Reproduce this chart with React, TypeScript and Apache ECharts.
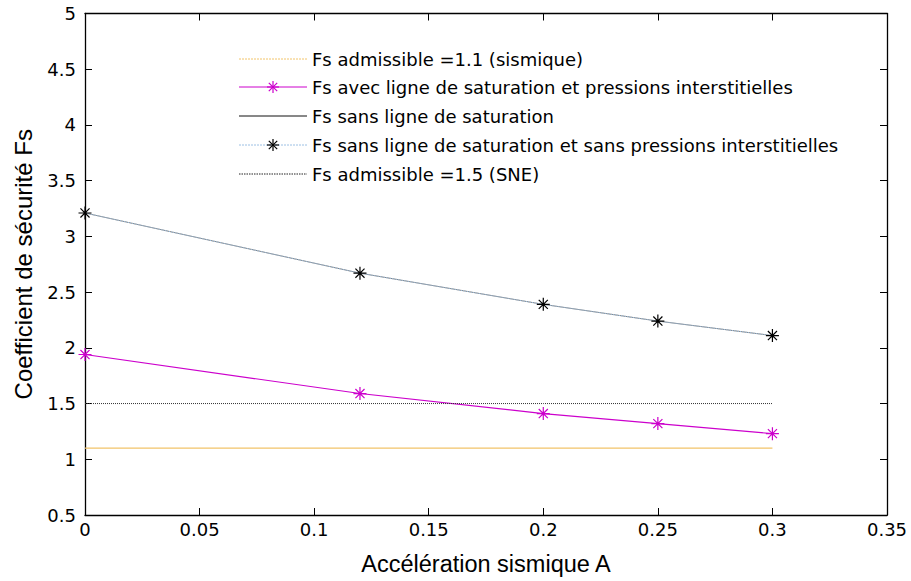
import React, { useEffect, useRef } from "react";
import * as echarts from "echarts";

const accel = [0, 0.12, 0.2, 0.25, 0.3];
const fsAvec = [1.94, 1.59, 1.41, 1.32, 1.23];
const fsSans = [3.21, 2.67, 2.39, 2.24, 2.11];
const fsSansSansPress = [3.21, 2.67, 2.39, 2.24, 2.11];
const fsAdm11 = [1.1, 1.1, 1.1, 1.1, 1.1];
const fsAdm15 = [1.5, 1.5, 1.5, 1.5, 1.5];
const names = [
  "Fs admissible =1.1 (sismique)",
  "Fs avec ligne de saturation et pressions interstitielles",
  "Fs sans ligne de saturation",
  "Fs sans ligne de saturation et sans pressions interstitielles",
  "Fs admissible =1.5 (SNE)",
];

const ASTER = "path://M0 5 L10 5 M5 0 L5 10 M1.5 1.5 L8.5 8.5 M8.5 1.5 L1.5 8.5";
const FONT = "'Liberation Sans', Arial, sans-serif";
const TICKFONT = "'DejaVu Sans', sans-serif";

const C_ORANGE = "#f2c46a";
const C_MAG = "#cc00cc";
const C_BLUE = "#9cc0e4";

const pts = (ys: number[]) => accel.map((x, i) => [x, ys[i]]);

function asterisk(cx: number, cy: number, r: number, color: string) {
  const d = r * 0.7;
  const segs = [
    [cx - r, cy, cx + r, cy],
    [cx, cy - r, cx, cy + r],
    [cx - d, cy - d, cx + d, cy + d],
    [cx + d, cy - d, cx - d, cy + d],
  ];
  return segs.map((s) => ({
    type: "line",
    shape: { x1: s[0], y1: s[1], x2: s[2], y2: s[3] },
    style: { stroke: color, lineWidth: 1.2 },
    silent: true,
  }));
}

export default function App() {
  const ref = useRef<HTMLDivElement>(null);
  useEffect(() => {
    const chart = echarts.init(ref.current!, null, { renderer: "svg" });
    const tick = { show: true, inside: true, length: 7, lineStyle: { color: "#000", width: 1 } };
    const line = { show: true, onZero: false, lineStyle: { color: "#000", width: 1.3 } };

    const lx1 = 239;
    const lx2 = 307;
    const tx = 312;
    const rows = [59, 87, 116, 145, 174];
    const legendStyles = [
      { stroke: C_ORANGE, lineDash: [2, 1], marker: null },
      { stroke: C_MAG, lineDash: null, marker: C_MAG },
      { stroke: "#111", lineDash: null, marker: null },
      { stroke: C_BLUE, lineDash: [2, 1], marker: "#000" },
      { stroke: "#222", lineDash: [1.5, 1], marker: null },
    ];
    const legendEls: any[] = [];
    rows.forEach((y, i) => {
      const st = legendStyles[i];
      legendEls.push({
        type: "line",
        shape: { x1: lx1, y1: y, x2: lx2, y2: y },
        style: { stroke: st.stroke, lineWidth: 1, lineDash: st.lineDash || undefined },
        silent: true,
      });
      if (st.marker) legendEls.push(...asterisk((lx1 + lx2) / 2, y, 6, st.marker));
      legendEls.push({
        type: "text",
        x: tx,
        y: y,
        style: {
          text: names[i],
          fill: "#000",
          font: `18px ${TICKFONT}`,
          verticalAlign: "middle",
          align: "left",
        },
        silent: true,
      });
    });

    chart.setOption({
      animation: false,
      backgroundColor: "#fff",
      textStyle: { fontFamily: FONT },
      grid: { left: 85, right: 24, top: 13.5, bottom: 65 },
      graphic: legendEls,
      xAxis: [
        {
          type: "value",
          min: 0,
          max: 0.35,
          interval: 0.05,
          position: "bottom",
          axisLine: line,
          axisTick: tick,
          splitLine: { show: false },
          name: "Accélération sismique A",
          nameLocation: "middle",
          nameGap: 37,
          nameTextStyle: { fontFamily: FONT, fontSize: 23.5, color: "#000" },
          axisLabel: { fontFamily: TICKFONT, fontSize: 18, color: "#000", margin: 5 },
        },
        {
          type: "value",
          min: 0,
          max: 0.35,
          interval: 0.05,
          position: "top",
          axisLine: line,
          axisTick: tick,
          splitLine: { show: false },
          axisLabel: { show: false },
        },
      ],
      yAxis: [
        {
          type: "value",
          min: 0.5,
          max: 5,
          interval: 0.5,
          position: "left",
          axisLine: line,
          axisTick: tick,
          splitLine: { show: false },
          name: "Coefficient de sécurité Fs",
          nameLocation: "middle",
          nameGap: 50,
          nameTextStyle: { fontFamily: FONT, fontSize: 24, color: "#000" },
          axisLabel: { fontFamily: TICKFONT, fontSize: 18, color: "#000", margin: 9 },
        },
        {
          type: "value",
          min: 0.5,
          max: 5,
          interval: 0.5,
          position: "right",
          axisLine: line,
          axisTick: tick,
          splitLine: { show: false },
          axisLabel: { show: false },
        },
      ],
      series: [
        {
          name: names[0],
          type: "line",
          data: pts(fsAdm11),
          symbol: "none",
          lineStyle: { color: C_ORANGE, width: 1.2 },
        },
        {
          name: names[1],
          type: "line",
          data: pts(fsAvec),
          symbol: ASTER,
          symbolSize: 13,
          lineStyle: { color: C_MAG, width: 1.2 },
          itemStyle: { color: "none", borderColor: C_MAG, borderWidth: 1.2 },
        },
        {
          name: names[2],
          type: "line",
          data: pts(fsSans),
          symbol: "none",
          lineStyle: { color: "#000", width: 1, opacity: 0.5 },
        },
        {
          name: names[3],
          type: "line",
          data: pts(fsSansSansPress),
          symbol: ASTER,
          symbolSize: 13,
          lineStyle: { color: C_BLUE, width: 1, type: "dotted" },
          itemStyle: { color: "none", borderColor: "#000", borderWidth: 1.2 },
        },
        {
          name: names[4],
          type: "line",
          data: pts(fsAdm15),
          symbol: "none",
          lineStyle: { color: "#333", width: 1, type: "dotted" },
        },
      ],
    });
    return () => chart.dispose();
  }, []);
  return (
    <div
      ref={ref}
      style={{ position: "fixed", left: 0, top: 0, width: 911, height: 581, background: "#fff" }}
    />
  );
}
